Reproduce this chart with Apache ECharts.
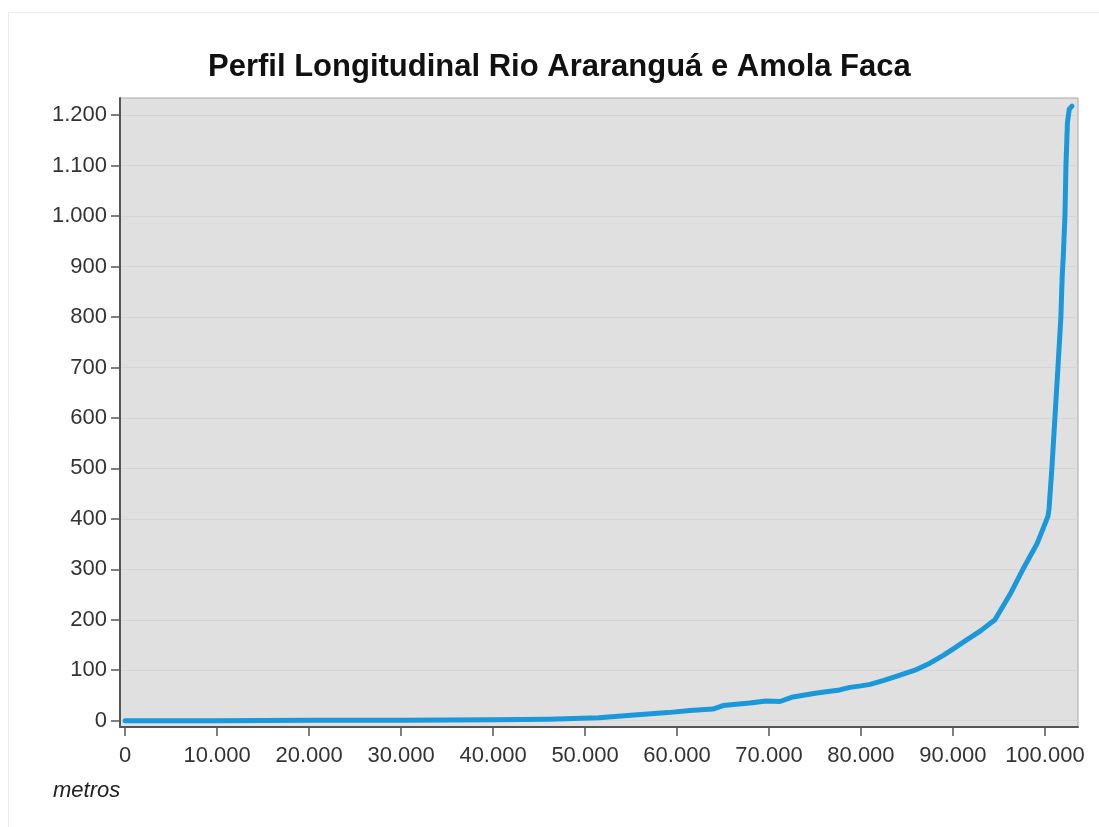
<!DOCTYPE html>
<html>
<head>
<meta charset="utf-8">
<title>Perfil Longitudinal</title>
<script src="https://cdn.jsdelivr.net/npm/echarts@6/dist/echarts.min.js"></script>
<style>
  html, body { margin: 0; padding: 0; background: #fff; }
  #chart { width: 1099px; height: 827px; }
</style>
</head>
<body>
<div id="chart"></div>
<script>
const distancia = [0, 10000, 20000, 30000, 40000, 46000, 51500, 55000, 59000, 61400,
  63900, 65000, 67900, 69700, 71200, 72600, 75200, 77700, 78800, 80000,
  81000, 82500, 84000, 85870, 87500, 89000, 90000, 91500, 93000, 94570,
  96200, 97610, 99130, 99900, 100330, 100450, 100760, 101090, 101420, 101740,
  101880, 102000, 102180, 102290, 102450, 102650, 102950]
const altitude = [0, 0, 1, 1, 2, 3, 6, 11, 16, 20,
  23, 30, 35, 39, 38, 47, 55, 61, 66, 69,
  72, 80, 89, 100, 114, 130, 142, 160, 178, 200,
  250, 300, 350, 385, 405, 420, 500, 600, 700, 800,
  880, 920, 1000, 1100, 1185, 1212, 1218]
const yTicks = [0, 100, 200, 300, 400, 500, 600, 700, 800, 900, 1000, 1100, 1200]
const xTicks = [0, 10000, 20000, 30000, 40000, 50000, 60000, 70000, 80000, 90000, 100000]

const fontFamily = "'Liberation Sans', Arial, Helvetica, sans-serif"
const fmt = v => String(v).replace(/\B(?=(\d{3})+(?!\d))/g, '.')

const chart = echarts.init(document.getElementById('chart'))
const points = distancia.map((d, i) => [d, altitude[i]])

const option = {
  backgroundColor: '#fff',
  animation: false,
  title: {
    text: 'Perfil Longitudinal Rio Araranguá e Amola Faca',
    left: 208,
    top: 52,
    padding: 0,
    textStyle: {
      fontFamily: fontFamily,
      fontSize: 31,
      fontWeight: 'bold',
      color: '#111'
    }
  },
  graphic: [
    { type: 'line', shape: { x1: 8.5, y1: 12, x2: 8.5, y2: 827 }, style: { stroke: '#ececec', lineWidth: 1 } },
    { type: 'line', shape: { x1: 8, y1: 12.5, x2: 1099, y2: 12.5 }, style: { stroke: '#ececec', lineWidth: 1 } },
    {
      type: 'text',
      left: 53,
      top: 780,
      style: {
        text: 'metros',
        fontFamily: fontFamily,
        fontSize: 22,
        fontStyle: 'italic',
        fill: '#222'
      }
    }
  ],
  grid: {
    left: 120,
    right: 21,
    top: 98,
    bottom: 100,
    show: true,
    backgroundColor: '#e0e0e0',
    borderColor: '#a8a8a8',
    borderWidth: 1
  },
  xAxis: {
    type: 'value',
    min: -560,
    max: 103600,
    axisLine: { show: true, onZero: false, lineStyle: { color: '#555', width: 2 } },
    axisTick: { show: true, length: 9, customValues: xTicks, lineStyle: { color: '#555', width: 1.5 } },
    axisLabel: {
      customValues: xTicks,
      formatter: fmt,
      margin: 18,
      fontFamily: fontFamily,
      fontSize: 22,
      color: '#333'
    },
    splitLine: { show: false }
  },
  yAxis: {
    type: 'value',
    min: -12.5,
    max: 1234,
    axisLine: { show: true, onZero: false, lineStyle: { color: '#555', width: 2 } },
    axisTick: { show: true, length: 9, customValues: yTicks, lineStyle: { color: '#555', width: 1.5 } },
    axisLabel: {
      customValues: yTicks,
      formatter: fmt,
      margin: 13,
      fontFamily: fontFamily,
      fontSize: 22,
      color: '#333'
    },
    splitLine: { show: true, lineStyle: { color: '#d4d4d4', width: 1 } }
  },
  series: [
    {
      name: 'Perfil',
      type: 'line',
      data: points,
      showSymbol: false,
      smooth: false,
      lineStyle: { color: '#1a98d9', width: 5, cap: 'round', join: 'round' }
    }
  ]
}

chart.setOption(option)
</script>
</body>
</html>
